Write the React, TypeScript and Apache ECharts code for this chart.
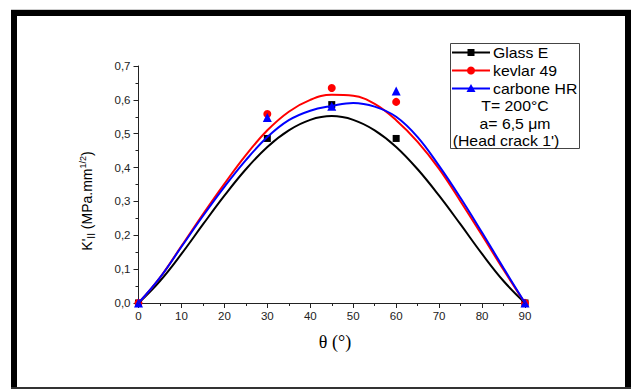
import React, { useEffect, useRef } from "react";
import * as echarts from "echarts";

// angles (deg) at which the fitted curves are read
const fitAngles = [0, 5, 10, 15, 20, 25, 30, 35, 40, 45, 50, 55, 60, 65, 70, 75, 80, 85, 90];
const glassFit = [0, 0.065, 0.145, 0.232, 0.317, 0.395, 0.461, 0.51, 0.541, 0.552, 0.541, 0.51, 0.461, 0.395, 0.317, 0.232, 0.145, 0.065, 0];
const kevlarFit = [0, 0.075, 0.168, 0.262, 0.352, 0.437, 0.51, 0.565, 0.6, 0.615, 0.612, 0.588, 0.54, 0.476, 0.396, 0.3, 0.2, 0.098, 0];
const carboneFit = [0, 0.075, 0.166, 0.257, 0.343, 0.422, 0.49, 0.54, 0.568, 0.582, 0.591, 0.58, 0.55, 0.49, 0.405, 0.31, 0.208, 0.103, 0];

// measured points
const measuredAngles = [0, 30, 45, 60, 90];
const glassMeasured = [0, 0.486, 0.586, 0.486, 0];
const kevlarMeasured = [0, 0.558, 0.635, 0.594, 0];
const carboneMeasured = [0, 0.548, 0.581, 0.626, 0];

const seriesNames = ["Glass E", "kevlar 49", "carbone HR"];
const xTickLabels = ["0", "10", "20", "30", "40", "50", "60", "70", "80", "90"];
const yTickLabels = ["0,0", "0,1", "0,2", "0,3", "0,4", "0,5", "0,6", "0,7"];
const legendNotes = ["T= 200°C", "a= 6,5 μm", "(Head crack 1')"];

const FONT = "'Liberation Sans', Arial, sans-serif";

function pairs(xs: number[], ys: number[]) {
  return xs.map((x, i) => [x, ys[i]]);
}

export default function App() {
  const ref = useRef<HTMLDivElement>(null);

  useEffect(() => {
    if (!ref.current) return;
    const chart = echarts.init(ref.current, undefined, { renderer: "svg" });

    const colors = ["#000000", "#ff0000", "#0000ff"];
    const legendY = [52.5, 70.5, 88.5];
    const lx0 = 452, lx1 = 490, lmx = 471;

    const legendItems: any[] = [];
    legendY.forEach((y, i) => {
      legendItems.push({
        type: "line",
        shape: { x1: lx0, y1: y, x2: lx1, y2: y },
        style: { stroke: colors[i], lineWidth: 2 },
      });
    });
    legendItems.push({ type: "rect", shape: { x: lmx - 3.5, y: legendY[0] - 3.5, width: 7, height: 7 }, style: { fill: colors[0] } });
    legendItems.push({ type: "circle", shape: { cx: lmx, cy: legendY[1], r: 4 }, style: { fill: colors[1] } });
    legendItems.push({
      type: "polygon",
      shape: { points: [[lmx, legendY[2] - 4.5], [lmx - 4.5, legendY[2] + 3.5], [lmx + 4.5, legendY[2] + 3.5]] },
      style: { fill: colors[2] },
    });
    seriesNames.forEach((n, i) => {
      legendItems.push({
        type: "text",
        x: 493,
        y: legendY[i],
        scaleX: 1.13,
        style: { text: n, fontSize: 14, fontFamily: FONT, fill: "#000", verticalAlign: "middle", align: "left" },
      });
    });
    const noteX = [515, 515, 506];
    const noteY = [106, 123.5, 141];
    legendNotes.forEach((t, i) => {
      legendItems.push({
        type: "text",
        x: noteX[i],
        y: noteY[i],
        scaleX: 1.13,
        style: { text: t, fontSize: 14, fontFamily: FONT, fill: "#000", verticalAlign: "middle", align: "center" },
      });
    });

    const option: any = {
      animation: false,
      backgroundColor: "#ffffff",
      grid: { left: 138.5, top: 66, width: 386.5, height: 237, containLabel: false },
      xAxis: {
        type: "value",
        min: 0,
        max: 90,
        interval: 10,
        axisLine: { show: true, onZero: false, lineStyle: { color: "#222", width: 1 } },
        axisTick: { show: true, inside: false, length: 5, lineStyle: { color: "#222" } },
        minorTick: { show: true, splitNumber: 2, length: 3, lineStyle: { color: "#222" } },
        splitLine: { show: false },
        axisLabel: {
          margin: 7,
          fontSize: 11.5,
          fontFamily: FONT,
          color: "#222",
          formatter: (v: number) => xTickLabels[Math.round(v / 10)] ?? "",
        },
      },
      yAxis: {
        type: "value",
        min: 0,
        max: 0.7,
        interval: 0.1,
        axisLine: { show: true, onZero: false, lineStyle: { color: "#222", width: 1 } },
        axisTick: { show: true, inside: false, length: 5, lineStyle: { color: "#222" } },
        minorTick: { show: true, splitNumber: 2, length: 3, lineStyle: { color: "#222" } },
        splitLine: { show: false },
        axisLabel: {
          margin: 8,
          fontSize: 11.5,
          fontFamily: FONT,
          color: "#222",
          formatter: (v: number) => yTickLabels[Math.round(v * 10)] ?? "",
        },
      },
      series: [
        { name: seriesNames[0] + " fit", type: "line", data: pairs(fitAngles, glassFit), smooth: 0.4, showSymbol: false, lineStyle: { color: colors[0], width: 2 } },
        { name: seriesNames[1] + " fit", type: "line", data: pairs(fitAngles, kevlarFit), smooth: 0.4, showSymbol: false, lineStyle: { color: colors[1], width: 2 } },
        { name: seriesNames[2] + " fit", type: "line", data: pairs(fitAngles, carboneFit), smooth: 0.4, showSymbol: false, lineStyle: { color: colors[2], width: 2 } },
        { name: seriesNames[0], type: "scatter", data: pairs(measuredAngles, glassMeasured), symbol: "rect", symbolSize: 7, itemStyle: { color: colors[0], opacity: 1 } },
        { name: seriesNames[1], type: "scatter", data: pairs(measuredAngles, kevlarMeasured), symbol: "circle", symbolSize: 8, itemStyle: { color: colors[1], opacity: 1 } },
        { name: seriesNames[2], type: "scatter", data: pairs(measuredAngles, carboneMeasured), symbol: "triangle", symbolSize: 9, itemStyle: { color: colors[2], opacity: 1 } },
      ],
      graphic: [
        // frame
        { type: "rect", shape: { x: 11, y: 9.5, width: 620, height: 1 }, style: { fill: "#999" } },
        { type: "rect", shape: { x: 11, y: 10, width: 620, height: 6 }, style: { fill: "#000" } },
        { type: "rect", shape: { x: 11, y: 10, width: 6, height: 379 }, style: { fill: "#000" } },
        { type: "rect", shape: { x: 625, y: 10, width: 6, height: 379 }, style: { fill: "#000" } },
        { type: "rect", shape: { x: 11, y: 387, width: 620, height: 2 }, style: { fill: "#333" } },
        // legend box
        { type: "rect", shape: { x: 450.5, y: 43.5, width: 129, height: 105 }, style: { fill: "#fff", stroke: "#444", lineWidth: 1 } },
        ...legendItems,
        // axis names
        {
          type: "text",
          x: 335,
          y: 342,
          style: { text: "θ (°)", fontSize: 18, fontFamily: "'Liberation Serif', 'Times New Roman', serif", fill: "#000", align: "center", verticalAlign: "middle" },
        },
        {
          type: "text",
          x: 87,
          y: 201,
          rotation: Math.PI / 2,
          style: {
            text: "{a|K'}{sub|II}{a| (MPa.mm}{sup|1/2}{a|)}",
            fontSize: 14,
            fontFamily: FONT,
            fill: "#000",
            align: "center",
            verticalAlign: "middle",
            rich: {
              a: { fontSize: 14, fontFamily: FONT, lineHeight: 18, verticalAlign: "middle", fill: "#000" },
              sub: { fontSize: 10, fontFamily: FONT, lineHeight: 8, verticalAlign: "bottom", fill: "#000" },
              sup: { fontSize: 9, fontFamily: FONT, lineHeight: 8, verticalAlign: "top", fill: "#000" },
            },
          },
        },
      ],
    };

    chart.setOption(option);
    return () => chart.dispose();
  }, []);

  return (
    <div
      ref={ref}
      style={{ position: "absolute", left: 0, top: 0, width: 635, height: 389, background: "#fff" }}
    />
  );
}
